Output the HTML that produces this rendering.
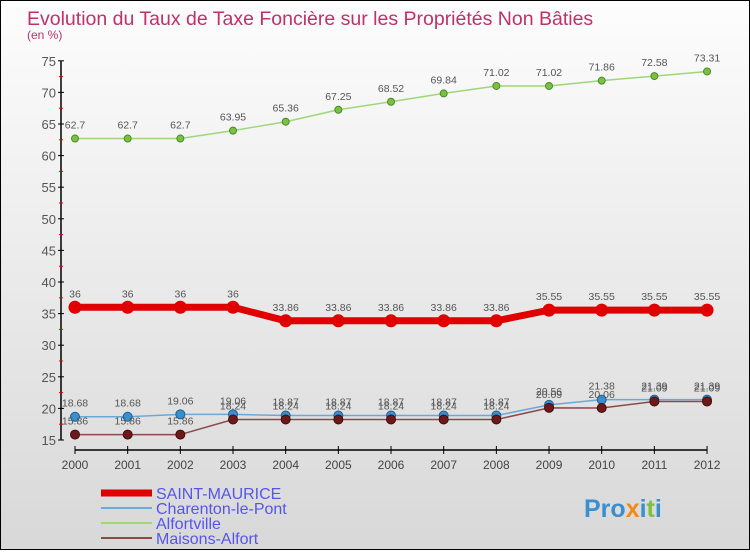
<!DOCTYPE html>
<html><head><meta charset="utf-8"><style>
html,body{margin:0;padding:0}
body{width:750px;height:550px;overflow:hidden;font-family:"Liberation Sans",sans-serif}
#c{position:absolute;left:0;top:0;width:748px;height:548px;border:1px solid #000;background:linear-gradient(#fdfdfd,#d8d8d8)}
</style></head><body>
<div id="c">
<svg id="svg" width="748" height="548" xmlns="http://www.w3.org/2000/svg">
<text x="26" y="24" font-size="19.5" fill="#c0306a">Evolution du Taux de Taxe Foncière sur les Propriétés Non Bâties</text>
<text x="26" y="38" font-size="12" fill="#c0306a">(en %)</text>
<g id="axes"></g><g id="series"></g><g id="legend"></g>
<text x="583" y="516" font-size="25" font-weight="bold" fill="#3a8fd0">Pro<tspan fill="#f08a1c">x</tspan>i<tspan fill="#7ac143">t</tspan>i</text>
</svg></div>
<script>
const years=[2000,2001,2002,2003,2004,2005,2006,2007,2008,2009,2010,2011,2012];
const yTicks=[15,20,25,30,35,40,45,50,55,60,65,70,75];
const saintMaurice=[36,36,36,36,33.86,33.86,33.86,33.86,33.86,35.55,35.55,35.55,35.55];
const charenton=[18.68,18.68,19.06,19.06,18.87,18.87,18.87,18.87,18.87,20.56,21.38,21.39,21.39];
const alfortville=[62.7,62.7,62.7,63.95,65.36,67.25,68.52,69.84,71.02,71.02,71.86,72.58,73.31];
const maisons=[15.86,15.86,15.86,18.24,18.24,18.24,18.24,18.24,18.24,20.09,20.06,21.09,21.09];
const NS="http://www.w3.org/2000/svg";
const X=i=>74+i*52.67;
const Y=v=>439-(v-15)*6.32;
function mk(tag,attrs,parent,text){const e=document.createElementNS(NS,tag);for(const k in attrs)e.setAttribute(k,attrs[k]);if(text!==undefined)e.textContent=text;parent.appendChild(e);return e;}
const ax=document.getElementById('axes');
let a=mk('line',{x1:60,y1:Y(75),x2:60,y2:Y(15),stroke:'#000','stroke-width':1.5},ax);


a=mk('line',{x1:X(0),y1:449,x2:X(12),y2:449,stroke:'#000','stroke-width':1.5},ax);


yTicks.forEach(t=>{
 mk('line',{x1:57,y1:Y(t),x2:63,y2:Y(t),stroke:'#000'},ax);
 const l=mk('text',{x:55,y:Y(t)+5,'font-size':13,'text-anchor':'end',fill:'#555'},ax,t);
 
 
 if(t<75)mk('line',{x1:58,y1:Y(t+2.5),x2:62,y2:Y(t+2.5),stroke:'#e00'},ax);
});
years.forEach((y,i)=>{
 mk('line',{x1:X(i),y1:445,x2:X(i),y2:453,stroke:'#000'},ax);
 const l=mk('text',{x:X(i),y:468,'font-size':12,'text-anchor':'middle',fill:'#444'},ax,y);
 
 
});
const sg=document.getElementById('series');
function series(data,color,w,dot,dotStroke,name,dotR){
 const g=mk('g',{},sg);
 
 
 mk('polyline',{points:data.map((v,i)=>X(i)+','+Y(v)).join(' '),fill:'none',stroke:color,'stroke-width':w,'stroke-linejoin':'round'},g);
 data.forEach((v,i)=>{
  const c=mk('circle',{cx:X(i),cy:Y(v),r:dotR,fill:dot,stroke:dotStroke,'stroke-width':1},g);
  
  
  const t=mk('text',{x:X(i),y:Y(v)-10,'font-size':10.5,'text-anchor':'middle',fill:'#555'},g,String(v));
  
  
 });
}
series(alfortville,'#9fd67a',1.5,'#7ac143','#4a8a2a','series-alfortville',3.5);
series(charenton,'#6aa8d8',1.5,'#3a8fd0','#1f5f90','series-charenton-le-pont',4.5);
series(maisons,'#8b4a4a',1.5,'#6a1a1a','#4a0a0a','series-maisons-alfort',4.5);
series(saintMaurice,'#e00000',7,'#e00000','#e00000','series-saint-maurice',6);
const lg=document.getElementById('legend');
const leg=[['SAINT-MAURICE','#e00000',7],['Charenton-le-Pont','#6aa8d8',2],['Alfortville','#9fd67a',2],['Maisons-Alfort','#8b4a4a',2]];
leg.forEach((e,i)=>{
 const y=492+i*15;
 const g=mk('g',{},lg);
 
 
 mk('line',{x1:100,y1:y,x2:151,y2:y,stroke:e[1],'stroke-width':e[2]},g);
 mk('text',{x:155,y:y+6,'font-size':16,fill:'#5555ee'},g,e[0]);
});
</script>
</body></html>
